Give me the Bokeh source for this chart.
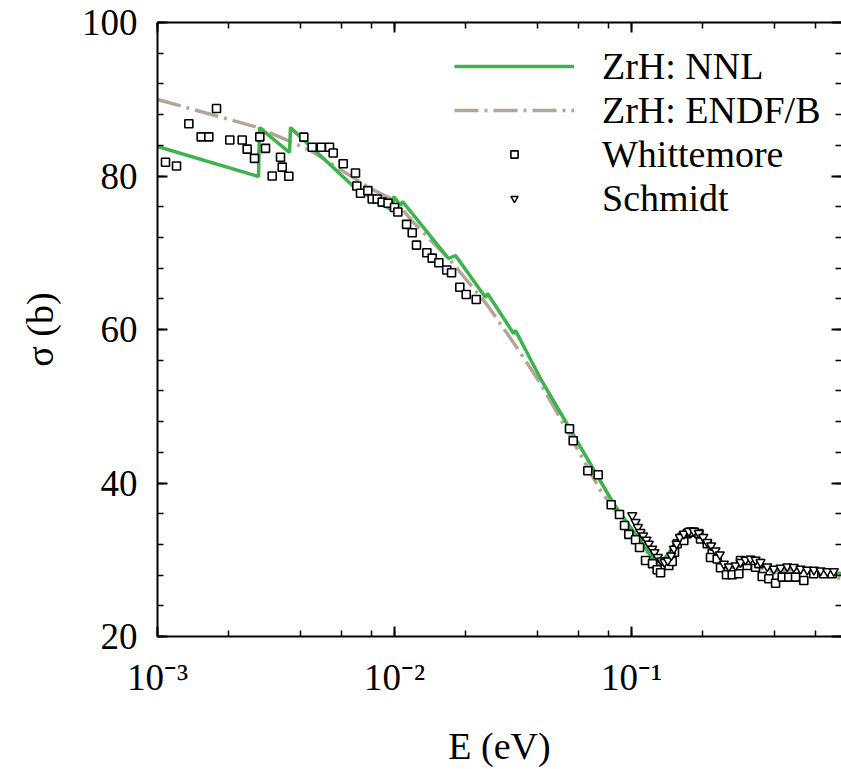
from bokeh.plotting import figure
from bokeh.models import (LinearAxis, LogAxis, Range1d, Legend, LegendItem,
                          SingleIntervalTicker, LogTicker)
from bokeh.embed import file_html
from bokeh.resources import INLINE

# ---------------- data ----------------
nnl_E = [1.0e-3, 2.668e-3, 2.694e-3, 3.606e-3, 3.641e-3, 6.714e-3, 9.81e-3, 9.93e-3,
         1.060e-2, 1.081e-2, 1.690e-2, 1.809e-2, 2.421e-2, 2.469e-2, 3.178e-2, 3.239e-2,
         4.172e-2, 8.395e-2, 1.300e-1, 1.461e-1, 1.610e-1, 1.774e-1, 1.955e-1, 2.197e-1,
         2.493e-1, 2.747e-1, 3.087e-1, 3.502e-1, 3.973e-1, 4.688e-1, 5.692e-1, 7.691e-1]
nnl_sigma = [83.84, 79.93, 86.3, 83.06, 86.3, 78.63, 75.5, 77.33,
             76.16, 76.68, 69.25, 69.64, 64.17, 64.69, 59.48, 59.87,
             53.36, 37.33, 29.12, 31.2, 33.16, 33.81, 33.16, 30.81,
             29.12, 28.99, 29.9, 29.38, 28.6, 28.99, 28.6, 28.21]

endf_E = [1.0e-3, 2.668e-3, 4.421e-3, 7.917e-3, 1.0e-2, 1.203e-2, 1.723e-2, 2.469e-2,
          3.239e-2, 4.130e-2, 4.874e-2, 7.400e-2, 8.988e-2, 1.091e-1, 1.287e-1, 1.534e-1,
          1.774e-1, 1.993e-1, 2.262e-1, 2.617e-1, 3.087e-1, 3.973e-1, 4.688e-1, 7.691e-1]
endf_sigma = [89.97, 86.3, 83.32, 78.37, 76.81, 73.94, 68.99, 63.13,
              57.92, 52.96, 49.06, 39.02, 35.5, 32.12, 29.12, 31.86,
              33.55, 32.77, 30.42, 28.6, 29.64, 28.34, 28.73, 27.56]

whit_E = [1.081e-3, 1.203e-3, 1.356e-3, 1.529e-3, 1.646e-3, 1.774e-3, 2.018e-3, 2.277e-3,
          2.390e-3, 2.566e-3, 2.702e-3, 2.856e-3, 3.048e-3, 3.304e-3, 3.359e-3, 3.581e-3,
          4.142e-3, 4.495e-3, 4.906e-3, 5.318e-3, 5.513e-3, 6.075e-3, 6.845e-3, 6.934e-3,
          7.186e-3, 7.717e-3, 8.054e-3, 8.453e-3, 8.873e-3, 9.389e-3, 1.0e-2, 1.033e-2,
          1.124e-2, 1.188e-2, 1.238e-2, 1.369e-2, 1.442e-2, 1.538e-2, 1.661e-2, 1.740e-2,
          1.886e-2, 2.007e-2, 2.212e-2, 5.474e-2, 5.675e-2, 6.540e-2, 7.236e-2, 8.210e-2,
          8.899e-2, 9.343e-2, 9.741e-2, 1.040e-1, 1.081e-1, 1.146e-1, 1.226e-1, 1.283e-1,
          1.326e-1, 1.415e-1, 1.437e-1, 1.485e-1, 1.518e-1, 1.559e-1, 1.636e-1, 1.662e-1,
          1.718e-1, 1.832e-1, 1.955e-1, 2.087e-1, 2.190e-1, 2.154e-1, 2.299e-1, 2.374e-1,
          2.516e-1, 2.660e-1, 2.836e-1, 3.078e-1, 3.336e-1, 3.560e-1, 3.795e-1, 4.052e-1,
          4.324e-1, 4.609e-1, 4.920e-1, 5.333e-1, 5.876e-1, 6.478e-1, 7.028e-1, 1.774e-1,
          1.923e-1, 2.884e-1, 3.177e-1, 3.445e-1]
whit_sigma = [81.8, 81.3, 86.8, 85.1, 85.1, 88.8, 84.7, 84.7,
              83.5, 82.3, 85.1, 83.6, 80.0, 82.45, 81.15, 79.97,
              85.06, 83.75, 83.75, 83.75, 83.0, 81.6, 80.4, 78.7,
              77.76, 78.1, 77.0, 77.0, 76.6, 76.45, 75.9, 75.3,
              73.7, 72.6, 71.0, 70.0, 69.3, 68.7, 67.75, 67.4,
              65.5, 64.56, 63.9, 47.06, 45.5, 41.6, 41.07, 37.16,
              35.9, 34.46, 33.3, 32.6, 31.6, 29.9, 29.5, 28.7,
              28.3, 29.7, 29.25, 29.77, 30.98, 32.08, 32.94, 32.5,
              33.4, 33.6, 32.7, 32.08, 30.8, 30.3, 30.1, 28.95,
              28.04, 28.04, 28.17, 29.25, 29.03, 27.82, 27.52, 26.94,
              27.73, 27.73, 27.73, 27.3, 28.17, 28.17, 28.17, 33.6,
              33.4, 29.9, 29.9, 29.5]

schm_E = [1.007e-1, 1.040e-1, 1.063e-1, 1.091e-1, 1.120e-1, 1.157e-1, 1.183e-1, 1.223e-1,
          1.250e-1, 1.291e-1, 1.335e-1, 1.378e-1, 1.423e-1, 1.471e-1, 1.509e-1, 1.549e-1,
          1.599e-1, 1.662e-1, 1.745e-1, 1.832e-1, 1.923e-1, 2.007e-1, 2.087e-1, 2.169e-1,
          2.262e-1, 2.358e-1, 2.452e-1, 2.573e-1, 2.747e-1, 2.884e-1, 3.027e-1, 3.177e-1,
          3.336e-1, 3.502e-1, 3.737e-1, 3.985e-1, 4.254e-1, 4.539e-1, 4.839e-1, 5.166e-1,
          5.512e-1, 5.882e-1, 6.274e-1, 6.695e-1, 7.140e-1]
schm_sigma = [35.77, 34.9, 34.24, 33.6, 33.16, 32.6, 32.08, 31.43,
              30.98, 30.33, 29.9, 29.68, 29.9, 30.55, 31.43, 32.08,
              32.94, 33.38, 33.72, 33.72, 33.46, 32.94, 32.29, 31.86,
              31.2, 30.68, 29.47, 29.12, 29.25, 29.68, 29.99, 30.12,
              29.99, 29.68, 29.12, 28.82, 28.95, 29.12, 29.03, 28.82,
              28.69, 28.69, 28.6, 28.5, 28.5]

series_labels = ["ZrH: NNL", "ZrH: ENDF/B", "Whittemore", "Schmidt"]
x_tick_labels = {0.001: "10\u207b\u00b3", 0.01: "10\u207b\u00b2", 0.1: "10\u207b\u00b9"}
x_limits = (1.0e-3, 0.769)
y_limits = (20, 100)

FONT = "Liberation Serif"
GREEN = "#3cb44b"
TAN = "#b3a696"

p = figure(width=841, height=769, x_axis_type="log",
           x_range=Range1d(*x_limits), y_range=Range1d(*y_limits),
           output_backend="svg", toolbar_location=None,
           min_border_left=157, min_border_right=0, min_border_top=22, min_border_bottom=133)
p.outline_line_color = None
p.xgrid.visible = False
p.ygrid.visible = False
p.background_fill_color = "white"
p.border_fill_color = "white"

p.yaxis.ticker = SingleIntervalTicker(interval=20, num_minor_ticks=5)
p.xaxis.ticker = LogTicker()
p.xaxis.major_label_overrides = x_tick_labels


def style(ax, labels=True):
    ax.major_tick_in = 10
    ax.major_tick_out = 0
    ax.minor_tick_in = 6
    ax.minor_tick_out = 0
    ax.axis_line_width = 2
    ax.major_tick_line_width = 2
    ax.minor_tick_line_width = 1.5
    ax.axis_line_color = "black"
    ax.major_tick_line_color = "black"
    ax.minor_tick_line_color = "black"
    ax.major_label_text_font = FONT
    ax.major_label_text_font_size = "37px"
    ax.major_label_text_color = "black"
    ax.axis_label_text_font = FONT
    ax.axis_label_text_font_size = "38px"
    ax.axis_label_text_font_style = "normal"
    ax.axis_label_text_color = "black"
    if not labels:
        ax.major_label_text_font_size = "1px"
        ax.major_label_text_alpha = 0
        ax.major_label_standoff = 0


for ax in p.xaxis:
    style(ax)
    ax.axis_label = "E (eV)"
    ax.major_label_standoff = 20
    ax.axis_label_standoff = 24
for ax in p.yaxis:
    style(ax)
    ax.axis_label = "\u03c3 (b)"
    ax.major_label_standoff = 20
    ax.axis_label_standoff = 18

top_ax = LogAxis(ticker=LogTicker())
style(top_ax, labels=False)
p.add_layout(top_ax, "above")
right_ax = LinearAxis(ticker=SingleIntervalTicker(interval=20, num_minor_ticks=5))
style(right_ax, labels=False)
right_ax.axis_line_color = None
p.add_layout(right_ax, "right")

r_endf = p.line(endf_E, endf_sigma, line_color=TAN, line_width=3.5, line_dash="24 6 3 6")
r_nnl = p.line(nnl_E, nnl_sigma, line_color=GREEN, line_width=3.5)
r_wh = p.scatter(whit_E, whit_sigma, marker="square", size=8, line_color="black",
                 line_width=1.6, fill_color="white")
r_sc = p.scatter(schm_E, schm_sigma, marker="inverted_triangle", size=9, line_color="black",
                 line_width=1.5, fill_color="white")

legend = Legend(items=[LegendItem(label=series_labels[0], renderers=[r_nnl]),
                       LegendItem(label=series_labels[1], renderers=[r_endf]),
                       LegendItem(label=series_labels[2], renderers=[r_wh]),
                       LegendItem(label=series_labels[3], renderers=[r_sc])],
                location=(297, 416))
legend.border_line_color = None
legend.background_fill_alpha = 0
legend.padding = 0
legend.margin = 0
legend.spacing = 0
legend.glyph_width = 120
legend.glyph_height = 18
legend.label_height = 44
legend.label_standoff = 28
legend.label_text_font = FONT
legend.label_text_font_size = "38px"
legend.label_text_color = "black"
p.add_layout(legend)

open("out.html", "w").write(file_html(p, INLINE))
